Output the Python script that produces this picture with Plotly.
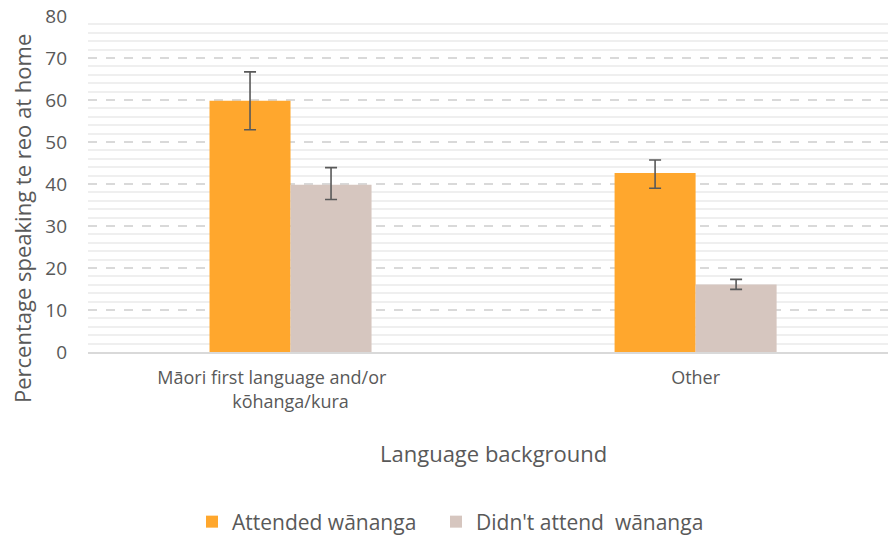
import plotly.graph_objects as go

categories = ["Māori first language and/or" + "\u00a0" * 8 + "<br>kōhanga/kura", "Other"]
attended = [59.8, 42.6]
attended_hi = [66.7, 45.7]
attended_lo = [52.9, 39.0]
not_attended = [39.8, 16.1]
not_attended_hi = [43.9, 17.3]
not_attended_lo = [36.3, 14.9]

FONT = "Open Sans"
TXT = "#595959"
L, T, PW, PH = 88, 16, 800, 336

def err(v, hi, lo):
    return dict(type="data", symmetric=False,
                array=[h - x for h, x in zip(hi, v)],
                arrayminus=[x - l for l, x in zip(lo, v)],
                color="#595959", thickness=1.6, width=6)

fig = go.Figure()
fig.add_trace(go.Bar(x=categories, y=attended, name="Attended wānanga",
                     marker=dict(color="#FFA72D", line=dict(width=0)),
                     error_y=err(attended, attended_hi, attended_lo), legend="legend"))
fig.add_trace(go.Bar(x=categories, y=not_attended, name="Didn't attend\u00a0 wānanga",
                     marker=dict(color="#D6C6BF", line=dict(width=0)),
                     error_y=err(not_attended, not_attended_hi, not_attended_lo),
                     legend="legend2"))

leg = dict(orientation="h", xanchor="left", yref="container", y=13 / 535,
           yanchor="middle", font=dict(size=21, color=TXT), bgcolor="rgba(0,0,0,0)")

fig.update_layout(
    width=888, height=535,
    margin=dict(l=L, r=0, t=T, b=535 - T - PH, autoexpand=False),
    plot_bgcolor="white", paper_bgcolor="white",
    barmode="group", bargap=0.6, bargroupgap=0,
    font=dict(family=FONT, color=TXT, size=18),
    showlegend=True,
    legend=dict(leg, x=(192 - L) / PW),
    legend2=dict(leg, x=(436 - L) / PW),
    xaxis=dict(range=[-0.5, 1.475], showgrid=False, showline=True, linecolor="#d9d9d9",
               linewidth=1.5, ticks="", tickfont=dict(size=18, color=TXT),
               ticklabelstandoff=9, automargin=False),
    yaxis=dict(range=[0, 80], dtick=10, showline=False, zeroline=False,
               gridcolor="#d9d9d9", griddash="dash", gridwidth=1.5,
               tickfont=dict(size=19, color=TXT), ticklabelstandoff=20, automargin=False,
               minor=dict(dtick=2, showgrid=True, gridcolor="#efefef", gridwidth=1.5,
                          griddash="solid")),
    annotations=[
        dict(text="Percentage speaking te reo at home", textangle=-90,
             xref="paper", x=(22 - L) / PW, xanchor="center", yref="paper",
             y=(T + PH - 219) / PH, yanchor="middle", showarrow=False,
             font=dict(size=22, color=TXT)),
        dict(text="Language background", xref="paper", x=(493 - L) / PW, xanchor="center",
             yref="paper", y=(T + PH - 453) / PH, yanchor="middle", showarrow=False,
             font=dict(size=22, color=TXT)),
    ],
)

fig.write_html("out.html", config={"displayModeBar": False},
               post_script="document.body.style.margin='0';")
